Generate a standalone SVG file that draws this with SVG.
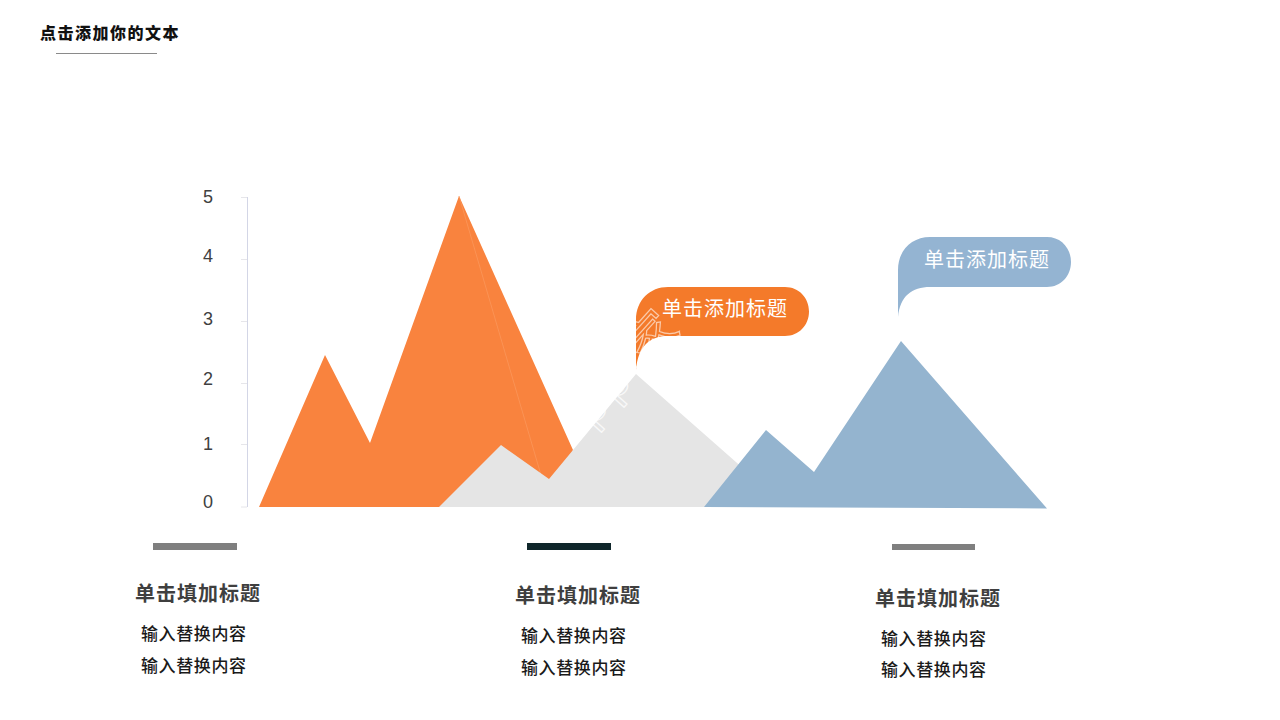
<svg xmlns="http://www.w3.org/2000/svg" width="1280" height="720" viewBox="0 0 1280 720">
<style>
text{font-family:"Noto Sans CJK SC","Noto Sans CJK JP",sans-serif}
.ax{font-family:"Liberation Sans",Arial,sans-serif;font-size:18px;fill:#404040;text-anchor:middle}
.h{font-size:20px;font-weight:700;fill:#3f3f3f;letter-spacing:1px}
.b{font-size:17px;font-weight:500;fill:#1a1a1a;letter-spacing:.6px}
.c{font-size:20px;fill:#fff;letter-spacing:1px}
.wm{font-size:48px;letter-spacing:7px;fill:none;stroke:#fff;stroke-width:1.300;stroke-opacity:.75;font-family:"Liberation Sans",Arial,sans-serif}
.wc{font-size:50px;fill:none;stroke:#fff;stroke-width:1.200;stroke-opacity:.6;font-family:"Noto Sans CJK SC",sans-serif}
</style>
<g id="title"><text x="40" y="39" font-size="16" font-weight="900" fill="#111" letter-spacing="1.500">点击添加你的文本</text><line x1="56" y1="53.500" x2="157" y2="53.500" stroke="#8a8a8a"/></g>
<g id="axis">
<path fill="none" stroke="#d3d6e6" d="M247.500 197V507"/>
<path fill="none" stroke="#e6e6ea" d="M241 197.500H247M241 259.500H247M241 321.500H247M241 383.500H247M241 444.500H247M241 507H247"/>
<text class="ax" x="208" y="203">5</text><text class="ax" x="208" y="262">4</text><text class="ax" x="208" y="325">3</text><text class="ax" x="208" y="385">2</text><text class="ax" x="208" y="450">1</text><text class="ax" x="208" y="508">0</text>
</g>
<g id="orange-mountain"><path fill="#f9833e" d="M259 507L325 355L370 443L459 196L573 450L560 480L480 507Z"/><path d="M459 196L541 475" stroke="#fb9a5f" stroke-width=".7" fill="none"/></g>
<g id="gray-mountain"><path fill="#e5e5e5" d="M439 507L501 445L549 479L636 374L745 470V507Z"/></g>
<g id="blue-mountain"><path fill="#94b4cf" d="M704 507L766 430L814 472L901 341L1047 508.500Z"/></g>
<g id="callout-orange"><path fill="#f47a2a" d="M636 370V320C636 300 650 287 668 287H785C799 287 809 298 809 311.500C809 325 799 336 785 336H668C650 336 638 346 636 370Z"/><text class="c" x="662" y="316">单击添加标题</text></g>
<g id="callout-blue"><path fill="#94b4d2" d="M898 317V270C898 250 912 237 930 237H1047C1061 237 1071 248 1071 262C1071 276 1061 287 1047 287H930C912 287 900 296 898 317Z"/><text class="c" x="924" y="267">单击添加标题</text></g>
<g id="watermark"><text class="wm" transform="translate(592 428) rotate(-48)">ppt</text><text class="wc" transform="translate(648 368) rotate(-48)">家</text></g>
<g id="col-1"><rect x="153" y="543" width="84" height="7" fill="#7f7f7f"/><text class="h" x="135" y="601">单击填加标题</text><text class="b" x="141" y="640">输入替换内容</text><text class="b" x="141" y="672">输入替换内容</text></g>
<g id="col-2"><rect x="527" y="543" width="84" height="7" fill="#10272b"/><text class="h" x="515" y="603">单击填加标题</text><text class="b" x="521" y="642">输入替换内容</text><text class="b" x="521" y="674">输入替换内容</text></g>
<g id="col-3"><rect x="892" y="544" width="83" height="6" fill="#7f7f7f"/><text class="h" x="875" y="606">单击填加标题</text><text class="b" x="881" y="645">输入替换内容</text><text class="b" x="881" y="676">输入替换内容</text></g>
</svg>
